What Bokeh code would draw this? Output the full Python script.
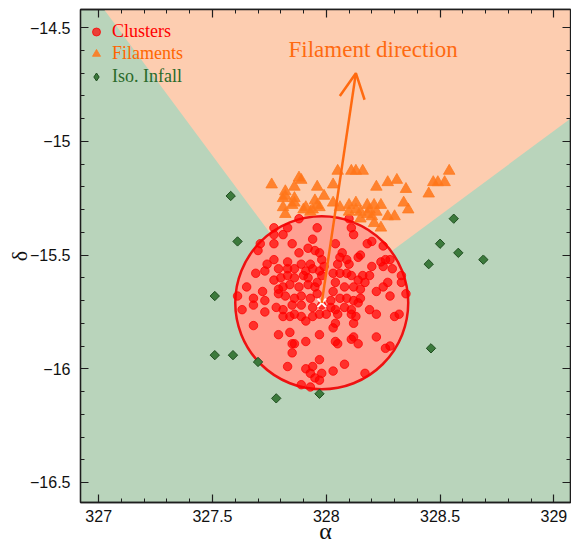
import math
from bokeh.plotting import figure
from bokeh.models import (Range1d, LinearAxis, SingleIntervalTicker, CustomJSTickFormatter,
                          Legend, LegendItem, Arrow, OpenHead, Label)
from bokeh.embed import file_html
from bokeh.resources import INLINE

# ---------------- data ----------------
cluster_ra = [
    327.88, 327.96, 327.83, 327.77, 327.81, 327.77, 327.71, 327.70, 327.77, 327.85,
    327.94, 327.92, 327.95, 327.88, 327.97, 327.98, 327.77, 327.74, 327.83, 327.89,
    327.93, 327.79, 327.83, 327.86, 327.91, 327.94, 327.97, 327.69, 327.73, 327.77,
    327.80, 327.83, 327.86, 327.90, 327.92, 327.96, 327.98, 327.79, 327.81, 327.84,
    327.88, 327.92, 327.95, 327.65, 327.72, 327.79, 327.82, 327.86, 327.89, 327.93,
    327.96, 327.61, 327.68, 327.73,
    328.10, 328.11, 328.12, 328.20, 328.18, 328.25, 328.04, 328.15, 328.14, 328.07,
    328.06, 328.09, 328.20, 328.24, 328.26, 328.28, 328.25, 328.29, 328.05,
    328.10, 327.99, 328.03, 328.06, 328.09, 328.11, 328.16, 328.19, 328.14, 328.17,
    328.33, 328.33, 328.04, 328.27, 328.25, 328.12, 328.15, 328.08, 328.03,
    328.22, 328.28, 328.35, 328.06, 328.09, 328.12, 328.15, 328.02,
    327.63, 327.68, 327.73, 327.78, 327.81, 327.81, 327.84, 327.86, 327.89, 327.91,
    327.94, 327.97, 327.98, 327.94, 327.89, 327.85, 327.68, 327.79, 327.84, 327.97,
    327.85, 327.86, 327.91, 327.85, 327.97, 327.83, 327.91, 327.94, 327.93, 327.95,
    327.98, 327.97, 327.89, 327.93,
    328.02, 328.04, 328.00, 328.05, 328.08, 328.11, 328.14, 328.19, 328.22,
    328.30, 328.32, 328.11, 328.13, 328.12, 328.04, 328.03, 328.11, 328.12, 328.14,
    328.04, 328.05, 328.22, 328.26, 328.28, 328.08, 328.03, 328.17,
]
cluster_dec = [
    -15.34, -15.38, -15.38, -15.38, -15.41, -15.41, -15.45, -15.48, -15.45, -15.45,
    -15.43, -15.47, -15.48, -15.49, -15.49, -15.52, -15.52, -15.54, -15.53, -15.54,
    -15.54, -15.56, -15.56, -15.56, -15.57, -15.56, -15.57, -15.58, -15.57, -15.61,
    -15.60, -15.59, -15.60, -15.59, -15.60, -15.62, -15.59, -15.65, -15.64, -15.63,
    -15.64, -15.63, -15.64, -15.64, -15.66, -15.67, -15.68, -15.69, -15.68, -15.69,
    -15.67, -15.68, -15.69, -15.70,
    -15.34, -15.38, -15.41, -15.44, -15.45, -15.46, -15.45, -15.50, -15.51, -15.49,
    -15.51, -15.52, -15.55, -15.53, -15.52, -15.52, -15.55, -15.56, -15.54,
    -15.54, -15.55, -15.58, -15.58, -15.58, -15.59, -15.59, -15.59, -15.61, -15.62,
    -15.59, -15.62, -15.62, -15.62, -15.64, -15.64, -15.65, -15.64, -15.66,
    -15.66, -15.68, -15.67, -15.69, -15.69, -15.70, -15.69, -15.70,
    -15.74, -15.72, -15.75, -15.73, -15.74, -15.77, -15.77, -15.76, -15.77, -15.79,
    -15.77, -15.76, -15.72, -15.73, -15.72, -15.72, -15.81, -15.85, -15.84, -15.85,
    -15.89, -15.89, -15.88, -15.93, -15.96, -15.99, -16.00, -15.99, -16.02, -16.04,
    -16.02, -16.05, -16.07, -16.08,
    -15.73, -15.74, -15.76, -15.76, -15.73, -15.74, -15.71, -15.74, -15.76,
    -15.77, -15.76, -15.76, -15.77, -15.80, -15.80, -15.82, -15.87, -15.86, -15.89,
    -15.88, -15.89, -15.86, -15.91, -15.90, -15.98, -16.01, -16.02,
]
filament_ra = [
    327.76, 327.88, 327.89, 327.86, 327.82, 327.82, 327.81, 327.86, 327.86, 327.81,
    327.85, 327.82, 327.96, 328.03, 328.05, 328.11, 328.13, 328.16, 327.99, 327.95,
    327.96, 328.03, 327.91, 327.97, 327.94, 327.90, 327.93, 328.06, 328.10, 328.13,
    328.13, 328.10, 328.15, 328.18, 328.18, 328.15,
    328.22, 328.27, 328.31, 328.35, 328.34, 328.36, 328.21, 328.24, 328.19, 328.22,
    328.20, 328.27, 328.30, 328.21, 328.47, 328.49, 328.52, 328.54, 328.45, 328.24,
]
filament_dec = [
    -15.19, -15.16, -15.17, -15.20, -15.22, -15.24, -15.25, -15.25, -15.27, -15.29,
    -15.28, -15.32, -15.20, -15.19, -15.13, -15.13, -15.13, -15.13, -15.24, -15.26,
    -15.28, -15.27, -15.29, -15.29, -15.30, -15.30, -15.31, -15.29, -15.28, -15.27,
    -15.30, -15.31, -15.31, -15.28, -15.32, -15.34,
    -15.20, -15.18, -15.17, -15.21, -15.27, -15.30, -15.28, -15.28, -15.30, -15.31,
    -15.33, -15.33, -15.33, -15.36, -15.18, -15.18, -15.18, -15.13, -15.23, -15.38,
]
infall_ra = [327.58, 327.61, 327.51, 327.51, 327.59, 327.70, 327.78, 327.97,
             328.45, 328.46, 328.50, 328.56, 328.58, 328.69]
infall_dec = [-15.24, -15.44, -15.68, -15.94, -15.94, -15.97, -16.13, -16.11,
              -15.54, -15.91, -15.45, -15.34, -15.49, -15.52]

center_ra, center_dec = 327.98, -15.71
cluster_radius = 0.38
arrow_tip_ra, arrow_tip_dec = 328.13, -14.70
cone_half_angle_deg = 45.0
x_limits = (326.92, 329.073)
y_limits = (-16.588, -14.42)
tick_interval = 0.5

GREEN_BG = "#b9d4bb"
PEACH = "#fdcdb0"
ORANGE = "#ff6a10"
SERIF = "Liberation Serif"
SANS = "Liberation Sans"

p = figure(width=571, height=548, output_backend="svg", toolbar_location=None,
           x_range=Range1d(*x_limits), y_range=Range1d(*y_limits),
           min_border_left=80, min_border_right=1, min_border_top=9, min_border_bottom=46)
p.background_fill_color = GREEN_BG
p.border_fill_color = "white"
p.grid.visible = False
p.outline_line_color = "#1e1e1e"
p.outline_line_width = 1.3

# filament cone (wedge from the cluster centre along the arrow direction)
theta = math.atan2(arrow_tip_dec - center_dec, arrow_tip_ra - center_ra)
half = math.radians(cone_half_angle_deg)
L = 8.0
wx = [center_ra, center_ra + L * math.cos(theta - half), center_ra + L * math.cos(theta + half)]
wy = [center_dec, center_dec + L * math.sin(theta - half), center_dec + L * math.sin(theta + half)]
p.patch(wx, wy, fill_color=PEACH, line_color=None)

# cluster region
p.circle([center_ra], [center_dec], radius=cluster_radius, fill_color="#ffa092",
         line_color="#ee1111", line_width=2.5)

r_cl = p.scatter(cluster_ra, cluster_dec, marker="circle", size=8.5,
                 fill_color="#ff0000", fill_alpha=0.7, line_color="#ff0000", line_alpha=0.75)
r_fil = p.scatter(filament_ra, filament_dec, marker="triangle", size=11.5,
                  fill_color="#ff7417", fill_alpha=0.85, line_color="#ff7a20", line_alpha=0.8)
r_inf = p.scatter(infall_ra, infall_dec, marker="square", angle=math.pi / 4, size=6.6,
                  fill_color="#3c7a3c", line_color="#1f4d1f", line_width=1)
# legend key for the diamonds (legend glyphs ignore the rotation angle); not shown in the plot
r_inf_key = p.scatter(infall_ra, infall_dec, marker="diamond", fill_color="#3c7a3c",
                      line_color="#1f4d1f", line_width=1, visible=False)

arrow = Arrow(end=OpenHead(size=25, line_color=ORANGE, line_width=2.5),
              x_start=center_ra, y_start=center_dec, x_end=arrow_tip_ra, y_end=arrow_tip_dec,
              line_color=ORANGE, line_width=2.5)
p.add_layout(arrow)
p.scatter([center_ra], [center_dec], marker="x", size=12, line_color="white", line_width=2)

p.add_layout(Label(x=327.834, y=-14.597, text="Filament direction", text_color=ORANGE,
                   text_font=SERIF, text_font_size="23px", text_baseline="middle",
                   text_align="left"))

# axes
fmt = CustomJSTickFormatter(code="return (tick < 0 ? '\\u2212' : '') + Math.abs(tick).toString();")

def style_axis(ax):
    ax.ticker = SingleIntervalTicker(interval=tick_interval, num_minor_ticks=5)
    ax.major_tick_in = 8
    ax.major_tick_out = 0
    ax.minor_tick_in = 4
    ax.minor_tick_out = 0
    ax.axis_line_color = "#1e1e1e"
    ax.axis_line_width = 1.3
    ax.major_tick_line_color = "#1e1e1e"
    ax.minor_tick_line_color = "#1e1e1e"
    ax.major_tick_line_width = 1.2
    ax.minor_tick_line_width = 1.0

for ax in (p.xaxis[0], p.yaxis[0]):
    style_axis(ax)
    ax.formatter = fmt
    ax.major_label_text_font = SANS
    ax.major_label_text_font_size = "16px"
    ax.major_label_text_color = "#111111"
    ax.axis_label_text_font = SERIF
    ax.axis_label_text_font_style = "normal"
    ax.axis_label_text_color = "#111111"

p.xaxis[0].axis_label = "α"
p.xaxis[0].axis_label_text_font_size = "24px"
p.xaxis[0].major_label_standoff = 7
p.xaxis[0].axis_label_standoff = -7
p.yaxis[0].axis_label = "δ"
p.yaxis[0].axis_label_text_font_size = "22px"
p.yaxis[0].major_label_standoff = 10
p.yaxis[0].axis_label_standoff = -5

for side in ("above", "right"):
    ax = LinearAxis()
    style_axis(ax)
    ax.major_label_text_font_size = "0px"
    ax.major_label_text_color = None
    ax.major_label_standoff = 0
    ax.axis_label_standoff = 0
    p.add_layout(ax, side)

# legends (one per entry so each label keeps its own colour)
entries = [(r_cl, "Clusters", "#ff0000", 460, 21),
           (r_fil, "Filaments", "#ff6600", 436, 25),
           (r_inf_key, "Iso. Infall", "#2a6a2a", 414, 23)]
for r, lab, col, vy, gsz in entries:
    lg = Legend(items=[LegendItem(label=lab, renderers=[r])], location=(6, vy),
                label_text_color=col, label_text_font=SERIF, label_text_font_size="18px",
                background_fill_alpha=0, border_line_alpha=0, padding=0, margin=0,
                spacing=0, glyph_width=20, glyph_height=gsz, label_height=20,
                label_standoff=6, inactive_fill_alpha=0)
    p.add_layout(lg)

with open("out.html", "w", encoding="utf-8") as f:
    f.write(file_html(p, INLINE))
